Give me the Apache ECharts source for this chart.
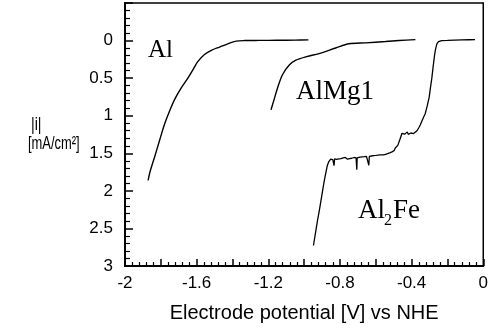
<!DOCTYPE html>
<html>
<head>
<meta charset="utf-8">
<script src="https://cdn.jsdelivr.net/npm/echarts@6/dist/echarts.min.js"></script>
<style>
html,body{margin:0;padding:0;background:#fff;}
#chart{width:491px;height:328px;}
</style>
</head>
<body>
<div id="chart"></div>
<script>
// Tick labels
var xTickLabels = ['-2', '-1.6', '-1.2', '-0.8', '-0.4', '0'];
var yTickLabels = ['0', '0.5', '1', '1.5', '2', '2.5', '3'];

// Series: [potential (V vs NHE), |i| (mA/cm2)]
var alData = [
  [-1.871,1.861],[-1.861,1.753],[-1.833,1.536],[-1.806,1.319],[-1.778,1.104],
  [-1.750,0.930],[-1.722,0.779],[-1.685,0.627],[-1.648,0.497],[-1.621,0.390],
  [-1.594,0.281],[-1.556,0.186],[-1.518,0.130],[-1.472,0.086],[-1.426,0.043],
  [-1.379,0.008],[-1.333,0],[-1.250,-0.002],[-1.150,-0.004],[-1.050,-0.006],[-0.976,-0.009]
];

var alMg1Data = [
  [-1.185,0.922],[-1.167,0.779],[-1.148,0.627],[-1.121,0.455],[-1.083,0.325],
  [-1.046,0.260],[-0.991,0.216],[-0.917,0.173],[-0.824,0.099],[-0.750,0.043],
  [-0.657,0.030],[-0.546,0.013],[-0.470,0.000],[-0.379,-0.013]
];

var al2FeData = [
  [-0.948,2.727],[-0.937,2.565],[-0.926,2.403],[-0.916,2.273],[-0.907,2.143],[-0.898,2.013],
  [-0.889,1.883],[-0.880,1.775],[-0.871,1.666],[-0.862,1.610],[-0.852,1.579],[-0.846,1.570],
  [-0.840,1.585],[-0.836,1.560],[-0.833,1.665],[-0.830,1.575],[-0.825,1.565],[-0.818,1.580],
  [-0.812,1.560],[-0.806,1.575],[-0.800,1.555],[-0.794,1.570],[-0.788,1.580],[-0.782,1.560],
  [-0.776,1.572],[-0.770,1.555],[-0.764,1.568],[-0.758,1.578],[-0.752,1.558],[-0.746,1.570],
  [-0.740,1.552],[-0.734,1.566],[-0.728,1.575],[-0.722,1.556],[-0.716,1.568],[-0.710,1.560],
  [-0.706,1.720],[-0.704,1.560],[-0.700,1.548],[-0.694,1.565],[-0.688,1.552],[-0.682,1.570],
  [-0.676,1.548],[-0.670,1.560],[-0.664,1.545],[-0.658,1.558],[-0.652,1.540],[-0.646,1.555],
  [-0.641,1.545],[-0.639,1.660],[-0.636,1.542],[-0.630,1.550],[-0.624,1.536],[-0.618,1.548],
  [-0.612,1.530],[-0.606,1.544],[-0.600,1.528],[-0.594,1.540],[-0.588,1.525],[-0.582,1.535],
  [-0.576,1.520],[-0.570,1.532],[-0.565,1.514],[-0.558,1.522],[-0.552,1.505],[-0.546,1.515],
  [-0.540,1.498],[-0.534,1.505],[-0.528,1.488],[-0.522,1.494],[-0.516,1.476],[-0.510,1.482],
  [-0.504,1.462],[-0.498,1.465],[-0.491,1.429],[-0.484,1.420],[-0.477,1.395],[-0.470,1.380],
  [-0.463,1.299],[-0.458,1.275],[-0.454,1.234],[-0.449,1.250],[-0.444,1.222],[-0.439,1.246],
  [-0.434,1.228],[-0.429,1.240],[-0.424,1.215],[-0.419,1.248],[-0.414,1.226],[-0.409,1.238],
  [-0.404,1.230],[-0.399,1.245],[-0.394,1.225],[-0.389,1.238],[-0.384,1.228],[-0.379,1.234],
  [-0.370,1.200],[-0.360,1.160],[-0.352,1.125],[-0.343,1.075],[-0.334,1.025],[-0.324,0.974],
  [-0.313,0.870],[-0.302,0.757],[-0.295,0.630],[-0.287,0.497],[-0.280,0.350],[-0.272,0.195],
  [-0.266,0.110],[-0.259,0.043],[-0.250,0.015],[-0.240,0.004],[-0.232,0],[-0.200,-0.002],
  [-0.160,-0.005],[-0.120,-0.008],[-0.080,-0.011],[-0.046,-0.013]
];

var chart = echarts.init(document.getElementById('chart'), null, {renderer: 'canvas'});
var sans = '"Liberation Sans", Arial, sans-serif';
var serif = '"Liberation Serif", "Times New Roman", serif';

function fmt(v) { return String(parseFloat(v.toFixed(2))); }

var lineStyle = {color: '#000', width: 1.4};

chart.setOption({
  animation: false,
  backgroundColor: '#fff',
  grid: {left: 125, right: 6, top: 3, bottom: 55, show: true, borderColor: '#000', borderWidth: 1.5, backgroundColor: 'transparent'},
  xAxis: {
    type: 'value', min: -2, max: 0, interval: 0.2,
    axisLine: {show: true, onZero: false, lineStyle: {color: '#000', width: 2}},
    axisTick: {show: true, inside: true, length: 7, lineStyle: {color: '#000', width: 1.5}},
    minorTick: {show: true, splitNumber: 5, length: 4, lineStyle: {color: '#000', width: 1.2}},
    splitLine: {show: false},
    axisLabel: {
      color: '#000', fontFamily: sans, fontSize: 17, margin: 9,
      showMinLabel: true, showMaxLabel: true,
      formatter: function (v) { var s = fmt(v); return xTickLabels.indexOf(s) >= 0 ? s : ''; }
    },
    name: 'Electrode potential [V] vs NHE', nameLocation: 'middle', nameGap: 37,
    nameTextStyle: {color: '#000', fontFamily: sans, fontSize: 20}
  },
  yAxis: {
    type: 'value', min: -0.5, max: 3, interval: 0.5, inverse: true,
    axisLine: {show: true, onZero: false, lineStyle: {color: '#000', width: 2}},
    axisTick: {show: true, inside: true, length: 8, lineStyle: {color: '#000', width: 1.5}},
    minorTick: {show: true, splitNumber: 5, length: 5, lineStyle: {color: '#000', width: 1.2}},
    splitLine: {show: false},
    axisLabel: {
      color: '#000', fontFamily: sans, fontSize: 17, margin: 12,
      showMinLabel: true, showMaxLabel: true,
      formatter: function (v) { var s = fmt(v); return yTickLabels.indexOf(s) >= 0 ? s : ''; }
    }
  },
  series: [
    {type: 'line', data: alData, showSymbol: false, symbol: 'none', lineStyle: lineStyle, smooth: 0.3},
    {type: 'line', data: alMg1Data, showSymbol: false, symbol: 'none', lineStyle: lineStyle, smooth: 0.3},
    {type: 'line', data: al2FeData, showSymbol: false, symbol: 'none', lineStyle: {color: '#000', width: 1.3}}
  ],
  graphic: [
    {type: 'text', x: 31, y: 115, scaleX: 0.75, style: {text: '|i|', fill: '#000', font: '19px ' + sans}},
    {type: 'text', x: 28, y: 134, scaleX: 0.68, style: {text: '[mA/cm²]', fill: '#000', font: '19px ' + sans}},
    {type: 'text', x: 148, y: 50, style: {text: 'Al', fill: '#000', font: '25px ' + serif, verticalAlign: 'middle'}},
    {type: 'text', x: 296, y: 92, style: {text: 'AlMg1', fill: '#000', font: '27px ' + serif, verticalAlign: 'middle'}},
    {type: 'text', x: 358, y: 211, style: {text: 'Al', fill: '#000', font: '27px ' + serif, verticalAlign: 'middle'}},
    {type: 'text', x: 384, y: 221, style: {text: '2', fill: '#000', font: '16px ' + serif, verticalAlign: 'middle'}},
    {type: 'text', x: 393, y: 211, style: {text: 'Fe', fill: '#000', font: '27px ' + serif, verticalAlign: 'middle'}}
  ]
});
</script>
</body>
</html>
